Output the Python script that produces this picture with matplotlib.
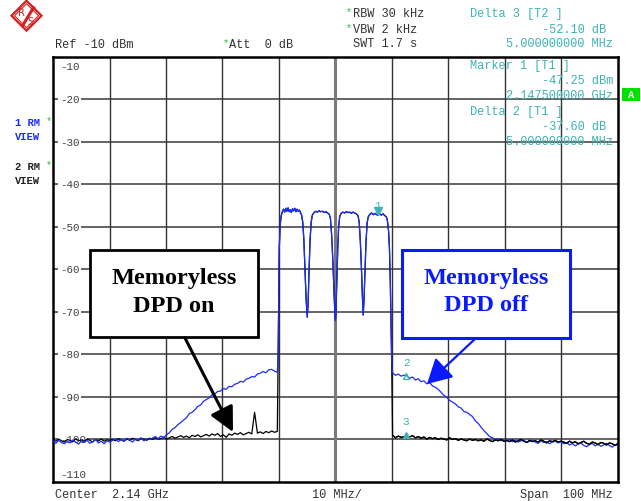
"""Spectrum analyzer screenshot: memoryless DPD on vs off (4-carrier WCDMA)."""

import matplotlib

matplotlib.use("Agg")
import matplotlib.pyplot as plt
import numpy as np
from matplotlib.patches import FancyArrowPatch, Polygon, Rectangle

# ---------------------------------------------------------------- data
# frequency offset from 2.14 GHz centre in MHz, level in dBm
x_ticks_mhz = np.arange(-50, 51, 10)
y_ticks_db = [-10, -20, -30, -40, -50, -60, -70, -80, -90, -100, -110]

# DPD off (blue), left adjacent channel region (-50 .. -10.3 MHz)
off_left_db = [
    -100.3, -100.9, -100.2, -100.7, -101.0, -100.4, -100.8, -100.1, -100.6, -101.1,
    -100.3, -100.7, -100.2, -100.9, -100.5, -100.0, -100.8, -100.4, -101.0, -100.3,
    -100.6, -100.2, -99.8, -100.5, -100.0, -100.4, -99.7, -100.1, -100.6, -99.9,
    -100.2, -99.6, -100.3, -99.8, -100.0, -99.7, -99.3, -99.8, -99.2, -99.5,
    -98.9, -98.4, -97.6, -97.2, -96.5, -96.0, -95.4, -94.9, -93.9, -93.6,
    -93.0, -92.2, -91.9, -91.0, -90.6, -90.2, -89.5, -89.3, -88.7, -88.6,
    -88.0, -88.2, -87.5, -87.6, -87.0, -86.8, -86.3, -86.5, -85.8, -85.6,
    -85.2, -85.3, -84.6, -84.4, -84.0, -84.3, -83.6, -83.5, -83.9, -84.2,
]
# DPD on (black), left adjacent channel region
on_left_db = [
    -100.1, -100.4, -99.9, -100.3, -100.6, -100.0, -100.2, -100.5, -99.8, -100.3,
    -100.1, -100.4, -99.9, -100.2, -100.6, -100.0, -100.3, -99.9, -100.4, -100.1,
    -100.2, -100.0, -100.3, -99.8, -100.1, -100.4, -99.9, -100.2, -99.7, -100.0,
    -100.3, -99.8, -99.9, -100.2, -99.7, -100.0, -99.6, -99.9, -99.8, -99.5,
    -99.9, -99.6, -99.3, -99.7, -99.4, -99.1, -99.5, -99.2, -99.6, -99.0,
    -99.3, -98.9, -99.4, -99.1, -98.8, -99.2, -98.7, -99.0, -98.6, -99.3,
    -98.9, -99.5, -98.7, -99.0, -98.5, -98.8, -98.4, -98.9, -98.6, -98.3,
    -98.7, -93.6, -98.5, -98.2, -98.6, -98.1, -98.4, -98.0, -98.3, -98.1,
]

# in-band 4 carriers (shared by both traces)
band_mhz = [
    -10.15, -10.05, -9.95, -9.8, -9.6, -9.4, -9.2, -9.0, -8.8, -8.6, -8.4, -8.2,
    -8.0, -7.8, -7.6, -7.4, -7.2, -7.0, -6.8, -6.6, -6.4, -6.2, -6.0, -5.8, -5.6,
    -5.4, -5.2, -5.0, -4.85, -4.7, -4.5, -4.3, -4.1, -3.8, -3.5, -3.2, -2.9, -2.6,
    -2.3, -2.0, -1.7, -1.4, -1.1, -0.9, -0.7, -0.5, -0.3, -0.15, -0.02, 0.1, 0.25,
    0.4, 0.55, 0.75, 1.0, 1.3, 1.6, 1.9, 2.2, 2.5, 2.8, 3.1, 3.4, 3.7, 4.0, 4.2,
    4.4, 4.6, 4.75, 4.9, 5.05, 5.2, 5.4, 5.6, 5.8, 6.1, 6.4, 6.7, 7.0, 7.3, 7.5,
    7.8, 8.1, 8.4, 8.7, 9.0, 9.2, 9.4, 9.55, 9.7, 9.85, 9.95,
]
band_db = [
    -80.0, -66.0, -55.0, -49.5, -47.3, -46.4, -45.8, -46.5, -45.6, -46.3, -45.5, -46.4,
    -45.9, -46.6, -45.7, -46.2, -45.6, -46.4, -45.8, -46.3, -46.0, -46.6, -47.2, -48.8, -53.0,
    -60.0, -67.0, -71.2, -68.0, -61.0, -53.0, -48.8, -47.2, -46.6, -46.3, -46.5, -46.2, -46.4,
    -46.3, -46.6, -46.4, -46.7, -47.0, -48.0, -51.5, -57.0, -64.0, -69.0, -72.0, -69.0, -62.0,
    -55.0, -50.0, -47.5, -46.8, -46.5, -46.7, -46.4, -46.6, -46.5, -46.8, -46.5, -46.7, -46.9, -47.4, -49.0,
    -53.5, -60.0, -66.0, -70.7, -67.0, -61.0, -53.5, -49.0, -47.6, -47.0, -46.7, -47.1, -46.8, -47.1, -47.25,
    -46.9, -47.2, -46.9, -47.3, -47.6, -48.6, -51.0, -55.0, -63.0, -75.0, -82.0,
]

# right adjacent channel region (10.1 .. 50 MHz)
off_right_db = [
    -84.3, -84.9, -84.6, -85.1, -84.85, -85.0, -85.6, -85.3, -86.0, -85.7,
    -86.4, -86.2, -86.9, -86.6, -87.4, -87.7, -88.2, -88.9, -89.6, -90.1,
    -90.8, -91.2, -91.6, -92.3, -92.6, -93.4, -93.6, -94.1, -94.6, -95.6,
    -96.2, -97.1, -97.9, -98.6, -99.3, -99.6, -100.0, -99.8, -100.3, -100.1,
    -100.4, -100.0, -100.5, -100.2, -100.6, -100.3, -100.1, -100.7, -100.4, -100.2,
    -100.6, -100.9, -100.3, -100.7, -100.5, -101.0, -100.6, -100.4, -100.8, -100.5,
    -101.0, -100.7, -101.3, -100.9, -101.5, -101.1, -100.8, -101.4, -101.7, -101.2,
    -100.9, -101.5, -101.1, -101.6, -101.3, -100.9, -101.4, -101.8, -101.2, -101.5,
]
on_right_db = [
    -99.0, -99.6, -99.2, -99.5, -99.35, -99.8, -99.4, -99.1, -99.6, -99.3,
    -99.7, -99.4, -99.9, -99.5, -99.8, -99.6, -100.0, -99.7, -99.9, -100.1,
    -99.6, -100.0, -99.8, -100.2, -99.9, -100.1, -100.3, -99.9, -100.2, -100.0,
    -100.3, -100.1, -100.4, -99.9, -100.2, -100.5, -100.1, -100.3, -100.0, -100.4,
    -100.2, -100.5, -100.1, -100.6, -100.3, -100.0, -100.4, -100.7, -100.2, -100.5,
    -100.3, -100.6, -100.1, -100.4, -100.8, -100.3, -100.5, -100.2, -100.6, -100.4,
    -100.6, -100.9, -100.4, -100.8, -100.5, -101.0, -100.7, -100.4, -100.9, -101.1,
    -100.6, -100.8, -101.2, -100.7, -100.9, -101.3, -100.8, -101.0, -101.4, -100.9,
]

# markers (freq offset MHz, level dBm, label)
marker_mhz = [7.5, 12.5, 12.5]
marker_db = [-47.25, -84.85, -99.35]
marker_names = ["1", "2", "3"]

# ---------------------------------------------------------------- layout
W, H = 641, 502
LEFT, RIGHT, TOP, BOTTOM = 53, 618, 58, 483
TEAL = "#3db3b3"
BLUE = "#1a2cff"
GREEN = "#22c022"
GREY_TXT = "#333333"
MONO = "Liberation Mono"
SERIF = "Liberation Serif"

left_mhz = np.linspace(-50, -10.3, len(off_left_db))
right_mhz = np.linspace(10.1, 50, len(off_right_db))
off_mhz = np.concatenate([left_mhz, band_mhz, right_mhz])
off_db = np.concatenate([off_left_db, band_db, off_right_db])
on_mhz = np.concatenate([left_mhz, band_mhz, right_mhz])
on_db = np.concatenate([on_left_db, band_db, on_right_db])

fig = plt.figure(figsize=(W / 100, H / 100), dpi=100)
ax = fig.add_axes([LEFT / W, 1 - BOTTOM / H, (RIGHT - LEFT) / W, (BOTTOM - TOP) / H])
ax.set_xlim(-50, 50)
ax.set_ylim(-110, -10)
ax.set_xticks([])
ax.set_yticks([])
for spine in ax.spines.values():
    spine.set_linewidth(1.8)
    spine.set_color("black")

for yv in y_ticks_db[1:-1]:
    ax.axhline(yv, color="#4a4a4a", lw=1.2, zorder=1)
for xv in x_ticks_mhz[1:-1]:
    if xv == 0:
        ax.axvline(xv, color="#7a7a7a", lw=2.2, zorder=1)
    else:
        ax.axvline(xv, color="#333333", lw=1.0, zorder=1)

# level labels drawn inside the grid
lab_x = -48.8
for yv in y_ticks_db:
    ypos = yv
    if yv == -10:
        ypos = -12.1
    elif yv == -110:
        ypos = -108.1
    ax.text(lab_x, ypos, str(yv), family=MONO, fontsize=7.8, color="#404040",
            ha="left", va="center", zorder=2,
            bbox=dict(boxstyle="square,pad=0.15", fc="white", ec="none"))

ax.plot(on_mhz, on_db, color="black", lw=0.9, zorder=3)
ax.plot(off_mhz, off_db, color=BLUE, lw=0.9, zorder=4)
ax.plot(on_mhz[len(left_mhz) + len(band_mhz):], on_db[len(left_mhz) + len(band_mhz):],
        color="black", lw=0.9, zorder=4)

# markers
ax.plot(marker_mhz[0], marker_db[0] + 0.9, marker="v", ms=6, color=TEAL, zorder=6)
ax.plot(marker_mhz[1], marker_db[1] - 0.3, marker="^", ms=5, mfc="none", mec=TEAL, mew=1.0, zorder=6)
ax.plot(marker_mhz[2], marker_db[2] + 0.3, marker="^", ms=5, color=TEAL, zorder=6)
label_lift = [2.4, 3.0, 3.6]
for fm, lv, nm, lift in zip(marker_mhz, marker_db, marker_names, label_lift):
    ax.text(fm, lv + lift, nm, family=MONO, fontsize=8, color=TEAL,
            ha="center", va="center", zorder=6)

# ---------------------------------------------------------------- overlay in pixel coordinates
ov = fig.add_axes([0, 0, 1, 1], zorder=5)
ov.set_xlim(0, W)
ov.set_ylim(H, 0)
ov.axis("off")
ov.patch.set_alpha(0)


def txt(x, y, s, color=GREY_TXT, size=8.6, ha="left", **kw):
    ov.text(x, y, s, family=MONO, fontsize=size, color=color, ha=ha, va="center", **kw)


# header
txt(55, 45, "Ref -10 dBm")
txt(223, 43, "*", color=GREEN, size=7.5)
txt(229, 45, "Att  0 dB")
txt(346, 12, "*", color=GREEN, size=7.5)
txt(353, 14, "RBW 30 kHz")
txt(346, 28, "*", color=GREEN, size=7.5)
txt(353, 30, "VBW 2 kHz")
txt(353, 44, "SWT 1.7 s")

# marker readouts
txt(470, 14, "Delta 3 [T2 ]", color=TEAL)
txt(542, 30, "-52.10 dB", color=TEAL)
txt(506, 44, "5.000000000 MHz", color=TEAL)
txt(470, 66, "Marker 1 [T1 ]", color=TEAL)
txt(542, 81, "-47.25 dBm", color=TEAL)
txt(506, 96, "2.147500000 GHz", color=TEAL)
txt(470, 112, "Delta 2 [T1 ]", color=TEAL)
txt(542, 127, "-37.60 dB", color=TEAL)
txt(506, 142, "5.000000000 MHz", color=TEAL)

# trace labels on the left
txt(15, 123, "1 RM", color=BLUE, size=7.6, fontweight="bold")
txt(46, 121, "*", color=GREEN, size=7.5)
txt(15, 137, "VIEW", color=BLUE, size=7.6, fontweight="bold")
txt(15, 167, "2 RM", color="#222222", size=7.6, fontweight="bold")
txt(46, 165, "*", color=GREEN, size=7.5)
txt(15, 181, "VIEW", color="#222222", size=7.6, fontweight="bold")

# footer
txt(55, 495, "Center  2.14 GHz")
txt(312, 495, "10 MHz/")
txt(613, 495, "Span  100 MHz", ha="right")

# green "A" box
ov.add_patch(Rectangle((622, 89), 18, 13, fc="#00e000", ec="none"))
ov.text(631, 95.5, "A", family=MONO, fontsize=7.5, color="white", fontweight="bold",
        ha="center", va="center")

# R&S logo
cx, cy, r = 26.5, 16.7, 15
ov.add_patch(Polygon([(cx, cy - r), (cx + r, cy), (cx, cy + r), (cx - r, cy)],
                     closed=True, fc="white", ec="#d42020", lw=1.6))
ov.add_patch(Polygon([(cx, cy - r + 3), (cx + r - 3, cy), (cx, cy + r - 3), (cx - r + 3, cy)],
                     closed=True, fc="none", ec="#d42020", lw=0.8))
ov.plot([cx + 7, cx - 4], [cy - 8, cy + 10], color="#d42020", lw=2.2)
ov.text(cx - 5, cy - 3.5, "R", fontsize=7, color="#d42020", ha="center", va="center")
ov.text(cx + 4, cy + 5, "S", fontsize=7, color="#d42020", ha="center", va="center")

# annotation boxes
ov.add_patch(Rectangle((90, 251), 168, 87, fc="white", ec="black", lw=2.0))
ov.text(174, 284, "Memoryless", family=SERIF, fontweight="bold", fontsize=17.5,
        color="black", ha="center", va="baseline")
ov.text(174, 312, "DPD on", family=SERIF, fontweight="bold", fontsize=17.5,
        color="black", ha="center", va="baseline")

ov.add_patch(Rectangle((402, 251), 168, 88, fc="white", ec="#0a1aff", lw=2.2))
ov.text(486, 284, "Memoryless", family=SERIF, fontweight="bold", fontsize=17.5,
        color="#0a1aff", ha="center", va="baseline")
ov.text(486, 311, "DPD off", family=SERIF, fontweight="bold", fontsize=17.5,
        color="#0a1aff", ha="center", va="baseline")

# arrows
ov.add_patch(FancyArrowPatch((185, 339), (233, 433), arrowstyle="-|>,head_length=1.0,head_width=0.5",
                             mutation_scale=15, color="black", lw=2.2, shrinkA=0, shrinkB=0))
ov.add_patch(FancyArrowPatch((476, 339), (427, 385), arrowstyle="-|>,head_length=1.0,head_width=0.55",
                             mutation_scale=15, color="#0a1aff", lw=1.6, shrinkA=0, shrinkB=0))

fig.savefig("out.png", dpi=100)
